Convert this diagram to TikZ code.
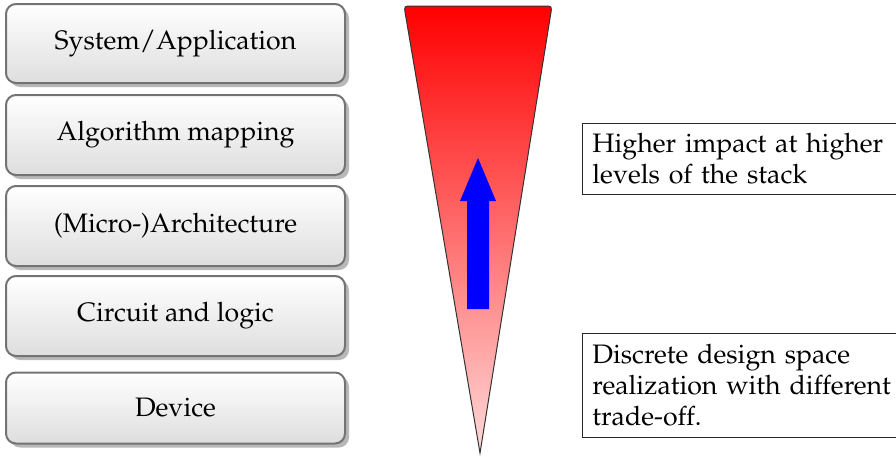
\documentclass[tikz,border=0pt]{standalone}
\usepackage[T1]{fontenc}
\usepackage{mathpazo}
\usetikzlibrary{shadows}
\tikzset{
  layer/.style={draw=black!55, line width=2pt, rounded corners=10pt,
    top color=white, bottom color=black!13,
    minimum width=339pt, inner sep=0pt,
    drop shadow={shadow xshift=4pt, shadow yshift=-4pt, fill=black!28, opacity=1},
    font=\fontsize{26.7}{31}\selectfont},
  note/.style={draw=black!85, line width=0.9pt, anchor=north west,
    inner xsep=10pt, inner ysep=10pt, text width=330pt, align=left,
    font=\fontsize{26.7}{31}\selectfont}
}
\begin{document}
\begin{tikzpicture}[x=1pt,y=-1pt]
\useasboundingbox (0,0) rectangle (896,456);
\node[layer, minimum height=79pt] (sys) at (175.5,43.5) {System/Application};
\node[layer, minimum height=80pt] (alg) at (175.5,135) {Algorithm mapping};
\node[layer, minimum height=80pt] (arch) at (175.5,226) {(Micro-)Architecture};
\node[layer, minimum height=80pt] (circ) at (175.5,316) {Circuit and logic};
\node[layer, minimum height=71pt] (dev) at (175.5,408) {Device};
% funnel
\draw[black!80, line width=1pt, top color=red, bottom color=red!15]
  (480,453) -- (405.34,13.89) .. controls (404,6) .. (412,6) -- (544,6)
  .. controls (552,6) .. (550.73,13.9) -- cycle;
% arrow
\fill[blue] (467,309) -- (467,201) -- (460,201) -- (478,158) -- (496,201)
  -- (489,201) -- (489,309) -- cycle;
\node[note] (hi) at (582,123) {Higher impact at higher\\levels of the stack};
\node[note, inner ysep=11pt] (ds) at (582,333) {Discrete design space\\realization with different\\trade-off.};
\end{tikzpicture}
\end{document}
